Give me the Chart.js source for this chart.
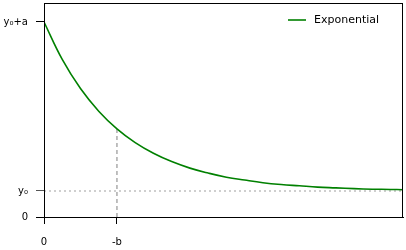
<!DOCTYPE html>
<html>
<head>
<meta charset="utf-8">
<script src="https://cdn.jsdelivr.net/npm/chart.js@4/dist/chart.umd.min.js"></script>
<style>
  html, body { margin: 0; padding: 0; background: #fff; }
  #wrap { width: 406px; height: 250px; }
</style>
</head>
<body>
<div id="wrap"><canvas id="grafico" width="406" height="250"></canvas></div>
<script>
// x en unidades de -b, y en unidades arbitrarias (y0 = 1)
var xs = [0, 0.25, 0.5, 0.75, 1, 1.25, 1.5, 1.75, 2, 2.25, 2.5, 2.75, 3, 3.25, 3.5, 3.75, 4, 4.25, 4.5, 4.75, 4.92];
var ys = [7.5, 6.06, 4.94, 4.07, 3.39, 2.86, 2.45, 2.13, 1.88, 1.69, 1.53, 1.42, 1.32, 1.25, 1.2, 1.15, 1.12, 1.09, 1.07, 1.06, 1.05];
var y0 = 1;
var xB = 1;
var yEnB = 3.39;
var xTicks = [0, 1];
var xTickLabels = ['0', '-b'];
var yTicks = [0, 1, 7.5];
var yTickLabels = ['0', 'y\u2080', 'y\u2080+a'];
var serieNombre = 'Exponential';

var fuente = "'DejaVu Sans', sans-serif";

var puntos = xs.map(function (x, i) { return { x: x, y: ys[i] }; });

// marco del área del gráfico y leyenda dentro, arriba a la derecha
var marco = {
    id: 'marco',
    afterDraw: function (chart) {
        var a = chart.chartArea, ctx = chart.ctx;
        ctx.save();
        ctx.strokeStyle = '#000';
        ctx.lineWidth = 1;
        ctx.strokeRect(a.left + 0.5, a.top + 0.5, a.right - a.left - 1, a.bottom - a.top);

        var ly = a.top + 17;
        ctx.strokeStyle = '#008000';
        ctx.lineWidth = 1.6;
        ctx.beginPath();
        ctx.moveTo(a.right - 115, ly);
        ctx.lineTo(a.right - 97, ly);
        ctx.stroke();
        ctx.fillStyle = '#000';
        ctx.font = '11px ' + fuente;
        ctx.textBaseline = 'middle';
        ctx.textAlign = 'left';
        ctx.fillText(serieNombre, a.right - 89, ly);
        ctx.restore();
    }
};

new Chart(document.getElementById('grafico'), {
    type: 'line',
    data: {
        datasets: [
            {
                label: serieNombre,
                data: puntos,
                borderColor: '#008000',
                borderWidth: 1.6,
                pointRadius: 0,
                tension: 0.4,
                order: 0
            },
            {
                label: 'h',
                data: [{ x: xs[0], y: y0 }, { x: xs[xs.length - 1], y: y0 }],
                borderColor: '#a0a0a0',
                borderWidth: 1.2,
                borderDash: [2, 3],
                pointRadius: 0,
                order: 1
            },
            {
                label: 'v',
                data: [{ x: xB, y: 0 }, { x: xB, y: yEnB }],
                borderColor: '#808080',
                borderWidth: 1,
                borderDash: [4, 3],
                pointRadius: 0,
                order: 1
            }
        ]
    },
    options: {
        responsive: false,
        animation: false,
        layout: { padding: { left: 0, right: 3, top: 3, bottom: 0 } },
        plugins: {
            tooltip: { enabled: false },
            legend: { display: false }
        },
        scales: {
            x: {
                type: 'linear',
                min: 0,
                max: 4.92,
                afterBuildTicks: function (s) { s.ticks = xTicks.map(function (v) { return { value: v }; }); },
                afterFit: function (s) { s.height = 33; s.paddingLeft = 0; s.paddingRight = 0; },
                ticks: {
                    callback: function (v) { return xTickLabels[xTicks.indexOf(v)]; },
                    font: { family: fuente, size: 10 },
                    color: '#000',
                    padding: 12,
                    maxRotation: 0,
                    autoSkip: false
                },
                grid: { drawOnChartArea: false, drawTicks: true, tickLength: 7, color: '#000' },
                border: { color: '#000', width: 1 }
            },
            y: {
                min: 0,
                max: 8.23,
                afterBuildTicks: function (s) { s.ticks = yTicks.map(function (v) { return { value: v }; }); },
                afterFit: function (s) { s.width = 44; s.paddingTop = 0; s.paddingBottom = 0; },
                ticks: {
                    callback: function (v) { return yTickLabels[yTicks.indexOf(v)]; },
                    font: { family: fuente, size: 10 },
                    color: '#000',
                    padding: 8,
                    autoSkip: false
                },
                grid: {
                    drawOnChartArea: false,
                    drawTicks: true,
                    tickLength: 8,
                    color: function (c) { return c.tick && c.tick.value === y0 ? '#555' : '#000'; }
                },
                border: { color: '#000', width: 1 }
            }
        }
    },
    plugins: [marco]
});
</script>
</body>
</html>
